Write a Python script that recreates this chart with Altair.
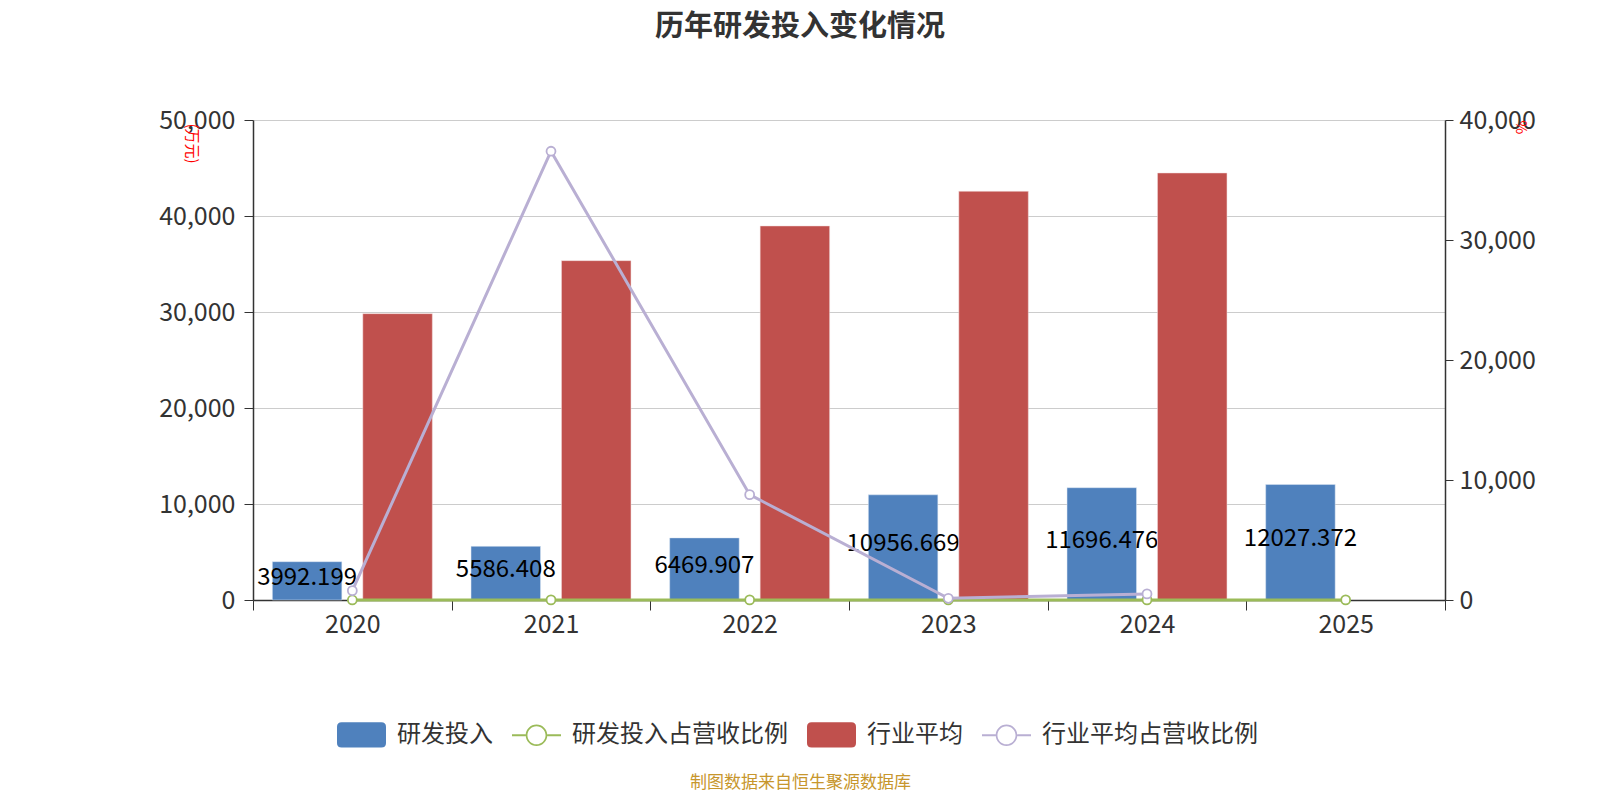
import altair as alt
import pandas as pd

years = ["2020", "2021", "2022", "2023", "2024", "2025"]
rd_spend = [3992.199, 5586.408, 6469.907, 10956.669, 11696.476, 12027.372]
industry_avg = [29830, 35350, 38960, 42570, 44480]
rd_ratio = [5.8, 7.3, 7.1, 9.9, 9.7, 10.1]
industry_ratio = [780, 37400, 8780, 140, 510]

series = ["研发投入", "研发投入占营收比例", "行业平均", "行业平均占营收比例"]
colors = ["#4f81bd", "#9bbb59", "#c0504d", "#b9afd3"]

# legend symbols: rounded box for bars, line with hollow circle for lines
box = ("M-0.81,-0.52 L0.81,-0.52 Q1,-0.52 1,-0.33 L1,0.33 Q1,0.52 0.81,0.52 "
       "L-0.81,0.52 Q-1,0.52 -1,0.33 L-1,-0.33 Q-1,-0.52 -0.81,-0.52 Z")
ring = ("M-1,-0.04 L-0.44,-0.04 L-0.44,0.04 L-1,0.04 Z "
        "M0.44,-0.04 L1,-0.04 L1,0.04 L0.44,0.04 Z "
        "M0.44,0 A0.44,0.44 0 1,1 -0.44,0 A0.44,0.44 0 1,1 0.44,0 Z "
        "M0.37,0 A0.37,0.37 0 1,0 -0.37,0 A0.37,0.37 0 1,0 0.37,0 Z")
shapes = [box, ring, box, ring]

rd_df = pd.DataFrame({"year": years, "series": "研发投入", "value": rd_spend})
ind_df = pd.DataFrame({"year": years[:5], "series": "行业平均", "value": industry_avg})
rd_line = pd.DataFrame({"year": years, "value": rd_ratio})
ind_line = pd.DataFrame({"year": years[:5], "value": industry_ratio})
legend_df = pd.DataFrame({"series": series})

font = "Noto Sans CJK SC"

x = alt.X(
    "year:N",
    scale=alt.Scale(paddingInner=0, paddingOuter=0),
    axis=alt.Axis(
        title="制图数据来自恒生聚源数据库",
        titleColor="#c7962c",
        titleFontSize=17,
        titleFontWeight="normal",
        titleX=547,
        titleY=182,
        titleBaseline="middle",
        labelAngle=0,
        labelFontSize=25,
        labelColor="#333333",
        labelPadding=2,
        tickBand="extent",
        tickSize=10,
        tickColor="#333333",
        domainColor="#333333",
        domainWidth=1.5,
        grid=False,
    ),
)
x_off = alt.XOffset(
    "series:N",
    scale=alt.Scale(domain=["研发投入", "行业平均"], paddingInner=0.232, paddingOuter=0.214),
)

y_left = alt.Y(
    "value:Q",
    scale=alt.Scale(domain=[0, 50000], nice=False),
    axis=alt.Axis(
        orient="left",
        values=[0, 10000, 20000, 30000, 40000, 50000],
        format=",.0f",
        title="(万元)",
        titleColor="red",
        titleFontSize=15,
        titleFontWeight="normal",
        titleAngle=90,
        titleX=-62,
        titleY=3,
        titleAlign="left",
        titleBaseline="middle",
        labelFontSize=25,
        labelColor="#333333",
        labelPadding=9,
        tickSize=9,
        tickColor="#333333",
        domainColor="#333333",
        domainWidth=1.5,
        gridColor="#cccccc",
    ),
)

blue_bars = alt.Chart(rd_df).mark_bar(color=colors[0], stroke="#dde6f2", strokeWidth=0.5).encode(
    x=x, xOffset=x_off, y=y_left
)
red_bars = alt.Chart(ind_df).mark_bar(color=colors[2], stroke="#f2dddd", strokeWidth=0.5).encode(
    x=x, xOffset=x_off, y=y_left
)

labels = (
    alt.Chart(rd_df)
    .transform_calculate(mid="datum.value / 2")
    .mark_text(fontSize=24, color="black", font=font, dy=-3)
    .encode(x=x, xOffset=x_off, y=alt.Y("mid:Q"), text=alt.Text("value:Q", format=".3f"))
)

legend_layer = (
    alt.Chart(legend_df)
    .transform_filter("false")
    .mark_point(filled=True, opacity=1)
    .encode(
        color=alt.Color(
            "series:N",
            scale=alt.Scale(domain=series, range=colors),
            legend=alt.Legend(title=None),
        ),
        shape=alt.Shape(
            "series:N",
            scale=alt.Scale(domain=series, range=shapes),
            legend=alt.Legend(title=None),
        ),
    )
)

y_right = alt.Y(
    "value:Q",
    scale=alt.Scale(domain=[0, 40000], nice=False),
    axis=alt.Axis(
        orient="right",
        values=[0, 10000, 20000, 30000, 40000],
        format=",.0f",
        title="%",
        titleColor="red",
        titleFontSize=15,
        titleFontWeight="normal",
        titleAngle=90,
        titleX=75,
        titleY=0,
        titleAlign="left",
        titleBaseline="middle",
        labelFontSize=25,
        labelColor="#333333",
        labelPadding=6,
        tickSize=8,
        tickColor="#333333",
        domainColor="#333333",
        domainWidth=1.5,
        grid=False,
    ),
)


def ratio_line(df, c):
    return alt.Chart(df).mark_line(
        color=c,
        strokeWidth=3,
        point=alt.OverlayMarkDef(filled=True, fill="white", stroke=c, strokeWidth=1.8, size=80),
    ).encode(x=x, y=y_right)


left = alt.layer(blue_bars, labels, red_bars, legend_layer)
right = alt.layer(ratio_line(rd_line, colors[1]), ratio_line(ind_line, colors[3]))

chart = (
    alt.layer(left, right)
    .resolve_scale(y="independent")
    .properties(
        width=1192,
        height=480,
        autosize=alt.AutoSizeParams(type="none"),
        padding={"left": 245, "top": 112, "right": 147, "bottom": 192},
        title=alt.TitleParams(
            "历年研发投入变化情况",
            fontSize=29,
            fontWeight="bold",
            color="#333333",
            font=font,
            dx=-49,
            offset=66,
        ),
    )
    .configure(font=font)
    .configure_view(stroke=None)
    .configure_legend(
        orient="none",
        legendX=84,
        legendY=590,
        direction="horizontal",
        labelFontSize=24,
        labelColor="#333333",
        labelFont=font,
        symbolSize=2401,
        symbolStrokeWidth=0,
        labelOffset=11,
        columnPadding=19,
        padding=0,
        labelLimit=400,
    )
)

chart.save("out.html", embed_options={"renderer": "svg", "actions": False})
